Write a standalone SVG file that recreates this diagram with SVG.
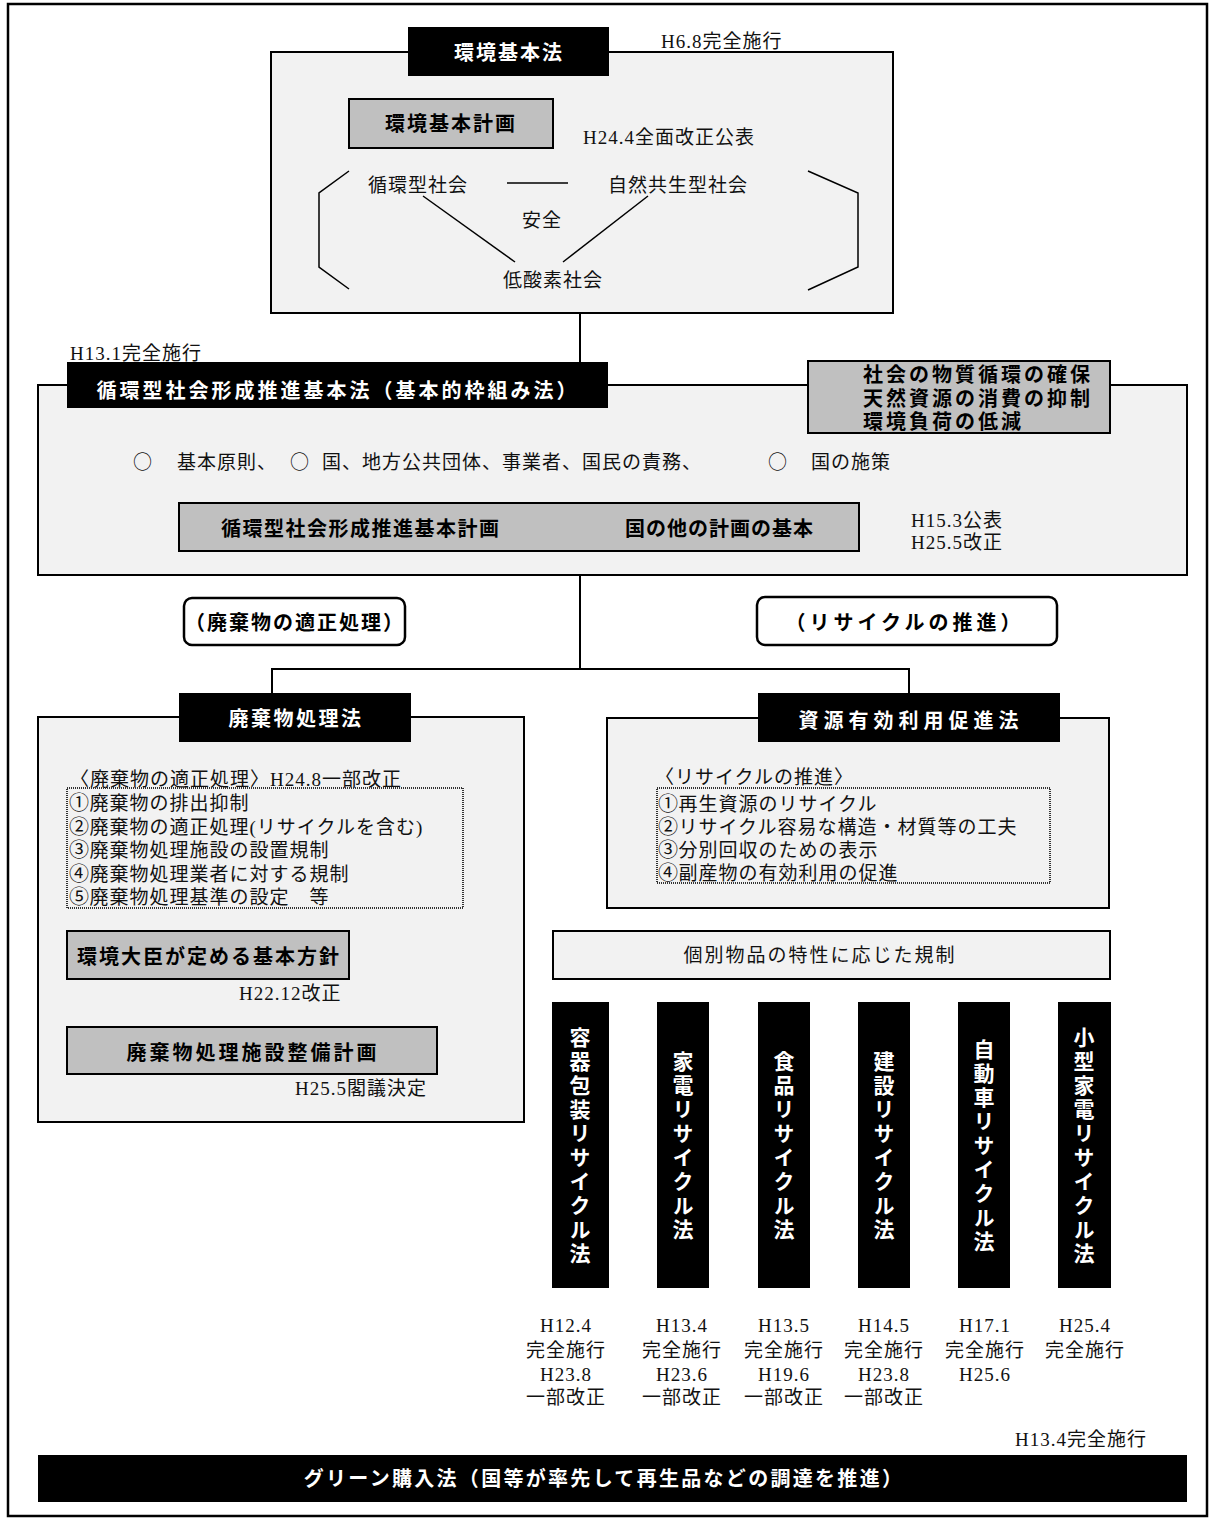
<svg xmlns="http://www.w3.org/2000/svg" width="1214" height="1519" viewBox="0 0 1214 1519">
<style>
.frame{fill:#f2f2f2;stroke:#000;stroke-width:2}
.bar{fill:#000}
.gray{fill:#c0c0c0;stroke:#000;stroke-width:2}
.pill{fill:#fff;stroke:#000;stroke-width:2.5}
.dot{fill:none;stroke:#333;stroke-width:2;stroke-dasharray:1 1}
.ln{stroke:#000;stroke-width:1.5;fill:none}
.con{stroke:#000;stroke-width:2;fill:none}
.b{font-family:"Noto Sans CJK JP","Noto Sans",sans-serif;font-weight:700;font-size:20px}
.w{fill:#fff}
.k{fill:#000}
.r{font-family:"Liberation Serif","Noto Sans CJK JP",serif;font-size:19px;letter-spacing:1px;fill:#111}
.cj{font-family:"Noto Sans CJK JP",sans-serif}
.n{font-family:"Noto Sans CJK JP",sans-serif;font-size:20px;letter-spacing:0.5px}
.g{font-family:"Noto Sans CJK JP","Noto Sans",sans-serif;font-size:19px;letter-spacing:2px;fill:#111}
.m{text-anchor:middle}
.v{font-family:"Noto Sans CJK JP","Noto Sans",sans-serif;font-weight:700;font-size:21px;fill:#fff;writing-mode:vertical-rl;text-orientation:upright;letter-spacing:3px}
</style>
<rect x="0" y="0" width="1214" height="1519" fill="#fff"/>
<rect x="8" y="4" width="1199" height="1512" fill="none" stroke="#000" stroke-width="2.5"/>

<g id="connectors">
<line class="con" x1="580" y1="313" x2="580" y2="362"/>
<line class="con" x1="580" y1="575" x2="580" y2="669"/>
<polyline class="con" points="272,693 272,669 909,669 909,693"/>
</g>

<g id="kankyo-kihonho">
<rect class="frame" x="271" y="52" width="622" height="261"/>
<rect class="bar" x="408" y="27" width="201" height="49"/>
<text class="b w m" x="509" y="59.5" letter-spacing="2">環境基本法</text>
<text class="r" x="661" y="47.5">H6.8完全施行</text>
</g>

<g id="kankyo-keikaku">
<rect class="gray" x="349" y="99" width="204" height="49"/>
<text class="b k m" x="451" y="131" letter-spacing="2">環境基本計画</text>
<text class="r" x="583" y="144">H24.4全面改正公表</text>
</g>

<g id="society">
<polyline class="ln" points="349,171 319,193 319,267 349,289"/>
<polyline class="ln" points="808,171 858,193 858,267 808,290"/>
<text class="r" x="368" y="192">循環型社会</text>
<line class="ln" x1="507" y1="183" x2="568" y2="183"/>
<text class="r" x="608" y="192">自然共生型社会</text>
<text class="r" x="522" y="227">安全</text>
<line class="ln" x1="423" y1="196" x2="515" y2="262"/>
<line class="ln" x1="648" y1="196" x2="563" y2="262"/>
<text class="r" x="503" y="287">低酸素社会</text>
</g>

<g id="junkan-kihonho">
<rect class="frame" x="38" y="385" width="1149" height="190"/>
<rect class="bar" x="67" y="362" width="541" height="46"/>
<text class="b w m" x="338" y="397.5" letter-spacing="3">循環型社会形成推進基本法（基本的枠組み法）</text>
<text class="r" x="70" y="360">H13.1完全施行</text>
<text class="r cj" x="133" y="469">○</text>
<text class="r" x="177" y="469" letter-spacing="3">基本原則、</text>
<text class="r cj" x="290" y="469">○</text>
<text class="r" x="322" y="469" letter-spacing="4.5">国、地方公共団体、事業者、国民の責務、</text>
<text class="r cj" x="768" y="469">○</text>
<text class="r" x="811" y="469">国の施策</text>
</g>

<g id="purpose">
<rect class="gray" x="808" y="361" width="302" height="72"/>
<text class="b k" x="863" y="382" font-size="19" letter-spacing="3">社会の物質循環の確保</text>
<text class="b k" x="863" y="406" font-size="19" letter-spacing="3">天然資源の消費の抑制</text>
<text class="b k" x="863" y="429" font-size="19" letter-spacing="3">環境負荷の低減</text>
</g>

<g id="junkan-keikaku">
<rect class="gray" x="179" y="503" width="680" height="48"/>
<text class="b k" x="221" y="535.5" letter-spacing="1.5">循環型社会形成推進基本計画</text>
<text class="b k" x="625" y="535.5" letter-spacing="1">国の他の計画の基本</text>
<text class="r" x="911" y="527">H15.3公表</text>
<text class="r" x="911" y="549">H25.5改正</text>
</g>

<g id="label-tekisei">
<rect class="pill" x="184" y="598" width="221" height="47" rx="8"/>
<text class="b k m" x="295" y="629.5" letter-spacing="2">（廃棄物の適正処理）</text>
</g>

<g id="label-recycle">
<rect class="pill" x="757" y="597" width="300" height="48" rx="8"/>
<text class="b k m" x="905" y="629.5" letter-spacing="4">（リサイクルの推進）</text>
</g>

<g id="haikibutsu-ho">
<rect class="frame" x="38" y="717" width="486" height="405"/>
<rect class="bar" x="179" y="693" width="232" height="49"/>
<text class="b w m" x="296" y="725.5" letter-spacing="2.5">廃棄物処理法</text>
<text class="r" x="70" y="786">〈廃棄物の適正処理〉H24.8一部改正</text>
<rect class="dot" x="67" y="788" width="396" height="120"/>
<text class="r" x="69" y="810"><tspan class="n">①</tspan>廃棄物の排出抑制</text>
<text class="r" x="69" y="834"><tspan class="n">②</tspan>廃棄物の適正処理(リサイクルを含む)</text>
<text class="r" x="69" y="857"><tspan class="n">③</tspan>廃棄物処理施設の設置規制</text>
<text class="r" x="69" y="881"><tspan class="n">④</tspan>廃棄物処理業者に対する規制</text>
<text class="r" x="69" y="904"><tspan class="n">⑤</tspan>廃棄物処理基準の設定　等</text>
</g>

<g id="kihon-hoshin">
<rect class="gray" x="67" y="931" width="282" height="48"/>
<text class="b k m" x="209" y="963.5" letter-spacing="2">環境大臣が定める基本方針</text>
<text class="r" x="239" y="1000">H22.12改正</text>
</g>

<g id="seibi-keikaku">
<rect class="gray" x="67" y="1027" width="370" height="47"/>
<text class="b k m" x="253" y="1059.5" letter-spacing="3">廃棄物処理施設整備計画</text>
<text class="r" x="295" y="1095">H25.5閣議決定</text>
</g>

<g id="shigen-ho">
<rect class="frame" x="607" y="718" width="502" height="190"/>
<rect class="bar" x="758" y="693" width="302" height="49"/>
<text class="b w m" x="911" y="727.5" letter-spacing="5">資源有効利用促進法</text>
<text class="r" x="655" y="784">〈リサイクルの推進〉</text>
<rect class="dot" x="657" y="788" width="393" height="95"/>
<text class="r" x="658" y="811"><tspan class="n">①</tspan>再生資源のリサイクル</text>
<text class="r" x="658" y="834"><tspan class="n">②</tspan>リサイクル容易な構造・材質等の工夫</text>
<text class="r" x="658" y="857"><tspan class="n">③</tspan>分別回収のための表示</text>
<text class="r" x="658" y="880"><tspan class="n">④</tspan>副産物の有効利用の促進</text>
</g>

<g id="kobetsu">
<rect class="frame" x="553" y="931" width="557" height="48"/>
<text class="g m" x="820" y="962">個別物品の特性に応じた規制</text>
</g>

<g id="yoki">
<rect class="bar" x="552" y="1002" width="57" height="286"/>
<text class="v" x="580" y="1027">容器包装リサイクル法</text>
<text class="r m" x="566" y="1332">H12.4</text>
<text class="r m" x="566" y="1357">完全施行</text>
<text class="r m" x="566" y="1381">H23.8</text>
<text class="r m" x="566" y="1404">一部改正</text>
</g>

<g id="kaden">
<rect class="bar" x="657" y="1002" width="52" height="286"/>
<text class="v" x="683" y="1051">家電リサイクル法</text>
<text class="r m" x="682" y="1332">H13.4</text>
<text class="r m" x="682" y="1357">完全施行</text>
<text class="r m" x="682" y="1381">H23.6</text>
<text class="r m" x="682" y="1404">一部改正</text>
</g>

<g id="shokuhin">
<rect class="bar" x="758" y="1002" width="52" height="286"/>
<text class="v" x="784" y="1051">食品リサイクル法</text>
<text class="r m" x="784" y="1332">H13.5</text>
<text class="r m" x="784" y="1357">完全施行</text>
<text class="r m" x="784" y="1381">H19.6</text>
<text class="r m" x="784" y="1404">一部改正</text>
</g>

<g id="kensetsu">
<rect class="bar" x="858" y="1002" width="52" height="286"/>
<text class="v" x="884" y="1051">建設リサイクル法</text>
<text class="r m" x="884" y="1332">H14.5</text>
<text class="r m" x="884" y="1357">完全施行</text>
<text class="r m" x="884" y="1381">H23.8</text>
<text class="r m" x="884" y="1404">一部改正</text>
</g>

<g id="jidosha">
<rect class="bar" x="958" y="1002" width="52" height="286"/>
<text class="v" x="984" y="1039">自動車リサイクル法</text>
<text class="r m" x="985" y="1332">H17.1</text>
<text class="r m" x="985" y="1357">完全施行</text>
<text class="r m" x="985" y="1381">H25.6</text>
</g>

<g id="kogata-kaden">
<rect class="bar" x="1058" y="1002" width="53" height="286"/>
<text class="v" x="1084" y="1027">小型家電リサイクル法</text>
<text class="r m" x="1085" y="1332">H25.4</text>
<text class="r m" x="1085" y="1357">完全施行</text>
</g>

<g id="green">
<text class="r" x="1147" y="1446" text-anchor="end">H13.4完全施行</text>
<rect class="bar" x="38" y="1455" width="1149" height="47"/>
<text class="b w m" x="604" y="1485.5" letter-spacing="2.3">グリーン購入法（国等が率先して再生品などの調達を推進）</text>
</g>
</svg>
